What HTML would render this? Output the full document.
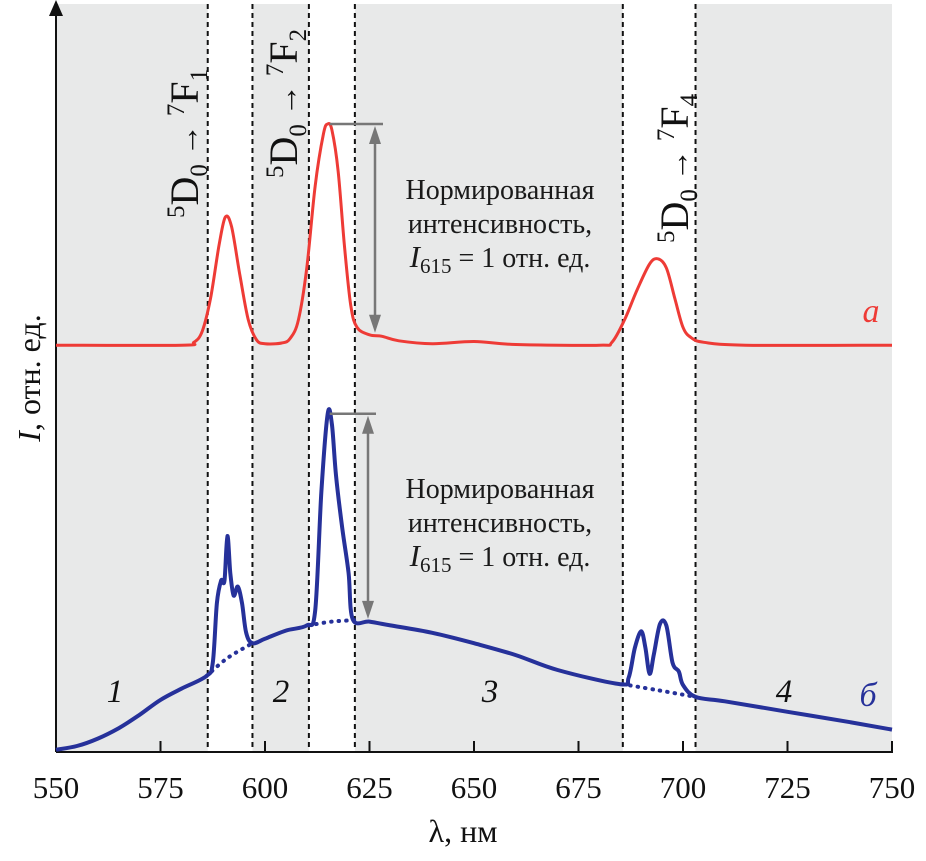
<!DOCTYPE html>
<html><head><meta charset="utf-8"><style>
body{margin:0;background:#fff}
svg{display:block;font-family:"Liberation Serif","DejaVu Serif",serif}
text,tspan{font-family:"Liberation Serif","DejaVu Serif",serif !important}
</style></head><body>
<svg id="chart" width="926" height="861" viewBox="0 0 926 861">
<g id="bg"></g><g id="marks"></g><g id="labels"></g>
</svg>
<script>
const redNm=[550,580,583,585,587,589,590.5,592,594,596,598,600,604,606,608,610,612,614,615,616,617.5,619,620.5,622,625,628,632,640,650,660,680,683,686,689,692,694,696,698,700,702,705,715,750];
const redVal=[54.6,54.6,55,56.5,61,68,71.8,70.5,64,58,55.3,54.8,54.9,55.5,58,65,76,83,84.3,83.5,78,68,60,57,56,55.8,55.2,54.8,55.1,54.7,54.6,55,58,62,65.5,66.2,65,61,57,55.6,55,54.6,54.6];
const blueNm=[550,555,560,565,570,575,580,586,587.5,588.5,589.5,590.3,591,591.7,592.5,593.5,594.5,595.5,597,600,605,610,612,613.5,615,616,617,618.5,620,621,625,630,640,650,660,670,685,687,688.5,690,691,692,693,694.5,696,697.5,699,700,703,710,725,740,750];
const blueVal=[0.3,0.8,1.8,3.2,5,7,8.5,10.2,12,20,23,23,29,24,21,22.2,20,16,14.6,15.2,16.3,17,19,35,45.4,44,37,30,24,17.8,17.5,17,16,14.6,13,11,9.1,10,14,16.2,14,10.5,13,17.2,17,12,10.8,9,7.4,6.8,5.4,4,3.0];
const baseSegNm=[[586,591,597],[610.5,616,621.5],[685.6,694,703]];
const baseSegVal=[[10.2,12.6,14.6],[17,17.5,17.7],[9.1,8.3,7.4]];
const bandEdges=[586.3,597,610.5,621.5,685.6,703];
const xTicks=[550,575,600,625,650,675,700,725,750];
const peakNm=615, redPeak=84.3, redBase=56, bluePeak=45.4, blueBase=17.6;

const X=nm=>56+(nm-550)*4.18;
const Y=v=>752-v*7.45;
const NS="http://www.w3.org/2000/svg";
const FF='"Liberation Serif","DejaVu Serif",serif';
function mk(parent,tag,attrs,text){const e=document.createElementNS(NS,tag);for(const k in attrs)e.setAttribute(k,attrs[k]);if(tag==='text')e.style.fontFamily=FF;if(text!==undefined)e.textContent=text;document.getElementById(parent).appendChild(e);return e;}

let e=mk('bg','rect',{x:56,y:4,width:X(750)-56,height:748,fill:'#e8e9e9'});


[[0,1],[2,3],[4,5]].forEach(([a,b])=>{
 const r=mk('bg','rect',{x:X(bandEdges[a]),y:4,width:X(bandEdges[b])-X(bandEdges[a]),height:748,fill:'#fff'});
 
 
});
bandEdges.forEach(nm=>{
 const l=mk('bg','line',{x1:X(nm),x2:X(nm),y1:4,y2:752,stroke:'#111','stroke-width':2,'stroke-dasharray':'5,4'});
 
 
});
e=mk('marks','line',{x1:56,x2:X(750)+1,y1:752,y2:752,stroke:'#111','stroke-width':2});


e=mk('marks','line',{x1:56,x2:56,y1:752,y2:10,stroke:'#111','stroke-width':2});


e=mk('marks','polygon',{points:'49,16 63,16 56,0',fill:'#111'});


xTicks.forEach(t=>{
 const l=mk('marks','line',{x1:X(t),x2:X(t),y1:752,y2:741,stroke:'#111','stroke-width':2});
 
 
 const tx=mk('labels','text',{x:X(t),y:798,'font-size':31,'text-anchor':'middle',fill:'#111'},String(t));
 
 
});
function path(nms,vals){
 const p=nms.map((n,i)=>[X(n),Y(vals[i])]);
 let d='M'+p[0][0].toFixed(1)+','+p[0][1].toFixed(1);
 for(let i=0;i<p.length-1;i++){
  const p0=p[Math.max(0,i-1)],p1=p[i],p2=p[i+1],p3=p[Math.min(p.length-1,i+2)];
  const c1=[p1[0]+(p2[0]-p0[0])/6,p1[1]+(p2[1]-p0[1])/6];
  const c2=[p2[0]-(p3[0]-p1[0])/6,p2[1]-(p3[1]-p1[1])/6];
  d+=' C'+c1.map(v=>v.toFixed(1))+' '+c2.map(v=>v.toFixed(1))+' '+p2.map(v=>v.toFixed(1));
 }
 return d;
}
e=mk('marks','path',{d:path(redNm,redVal),fill:'none',stroke:'#ee3b36','stroke-width':3,'stroke-linejoin':'round'});


baseSegNm.forEach((s,i)=>{
 const p=mk('marks','path',{d:path(s,baseSegVal[i]),fill:'none',stroke:'#26319a','stroke-width':4,'stroke-dasharray':'0.5,7','stroke-linecap':'round'});
 
 
});
e=mk('marks','path',{d:path(blueNm,blueVal),fill:'none',stroke:'#26319a','stroke-width':4,'stroke-linejoin':'round'});


function arrow(ax,top,bot,name){
 const g=mk('marks','g',{});
 
 
 const gy=Y(top);
 mk('marks','line',{x1:X(peakNm)+2,x2:ax+8,y1:gy,y2:gy,stroke:'#777','stroke-width':2.5});
 mk('marks','line',{x1:ax,x2:ax,y1:gy+14,y2:Y(bot)-14,stroke:'#777','stroke-width':2.5});
 mk('marks','polygon',{points:`${ax-6},${gy+20} ${ax+6},${gy+20} ${ax},${gy+2}`,fill:'#777'});
 mk('marks','polygon',{points:`${ax-6},${Y(bot)-20} ${ax+6},${Y(bot)-20} ${ax},${Y(bot)-2}`,fill:'#777'});
}
arrow(375,redPeak,redBase,'norm-arrow-a');
arrow(368,bluePeak,blueBase,'norm-arrow-b');
function note(y0,name){
 const lines=['Нормированная','интенсивность,'];
 lines.forEach((s,i)=>{const t=mk('labels','text',{x:500,y:y0+i*34,'font-size':28,'text-anchor':'middle',fill:'#1a1a1a'},s);
 
 });
 const t=mk('labels','text',{x:500,y:y0+68,'font-size':28,'text-anchor':'middle',fill:'#1a1a1a'});
 
 
 t.innerHTML='<tspan font-style="italic" font-size="31">I</tspan><tspan font-size="21" dy="6">615</tspan><tspan dy="-6"> = 1 отн. ед.</tspan>';
}
note(199,'annotation-a');
note(498,'annotation-b');
function trans(x,y,n,name){
 const t=mk('labels','text',{transform:`translate(${x},${y}) rotate(-90)`,'font-size':40,fill:'#111'});
 
 
 t.innerHTML=`<tspan font-size="25" dy="-14">5</tspan><tspan dy="14">D</tspan><tspan font-size="25" dy="9">0</tspan><tspan dy="-9" font-size="32"> → </tspan><tspan font-size="25" dy="-14">7</tspan><tspan dy="14">F</tspan><tspan font-size="25" dy="9">${n}</tspan>`;
}
trans(198,218,1,'transition-label-f1');
trans(297,178,2,'transition-label-f2');
trans(688,243,4,'transition-label-f4');
[['1',115],['2',281],['3',490],['4',784]].forEach(([s,x])=>{
 const t=mk('labels','text',{x:x,y:702,'font-size':33,'font-style':'italic','text-anchor':'middle',fill:'#111'},s);
 
 
});
e=mk('labels','text',{x:871,y:322,'font-size':34,'font-style':'italic','text-anchor':'middle',fill:'#ee3b36'},'а');


e=mk('labels','text',{x:868,y:706,'font-size':34,'font-style':'italic','text-anchor':'middle',fill:'#26319a'},'б');


e=mk('labels','text',{x:463,y:842,'font-size':32,'text-anchor':'middle',fill:'#111'},'λ, нм');


e=mk('labels','text',{transform:'translate(40,378) rotate(-90)','font-size':32,'text-anchor':'middle',fill:'#111'});


e.innerHTML='<tspan font-style="italic">I</tspan>, отн. ед.';
</script>
</body></html>
